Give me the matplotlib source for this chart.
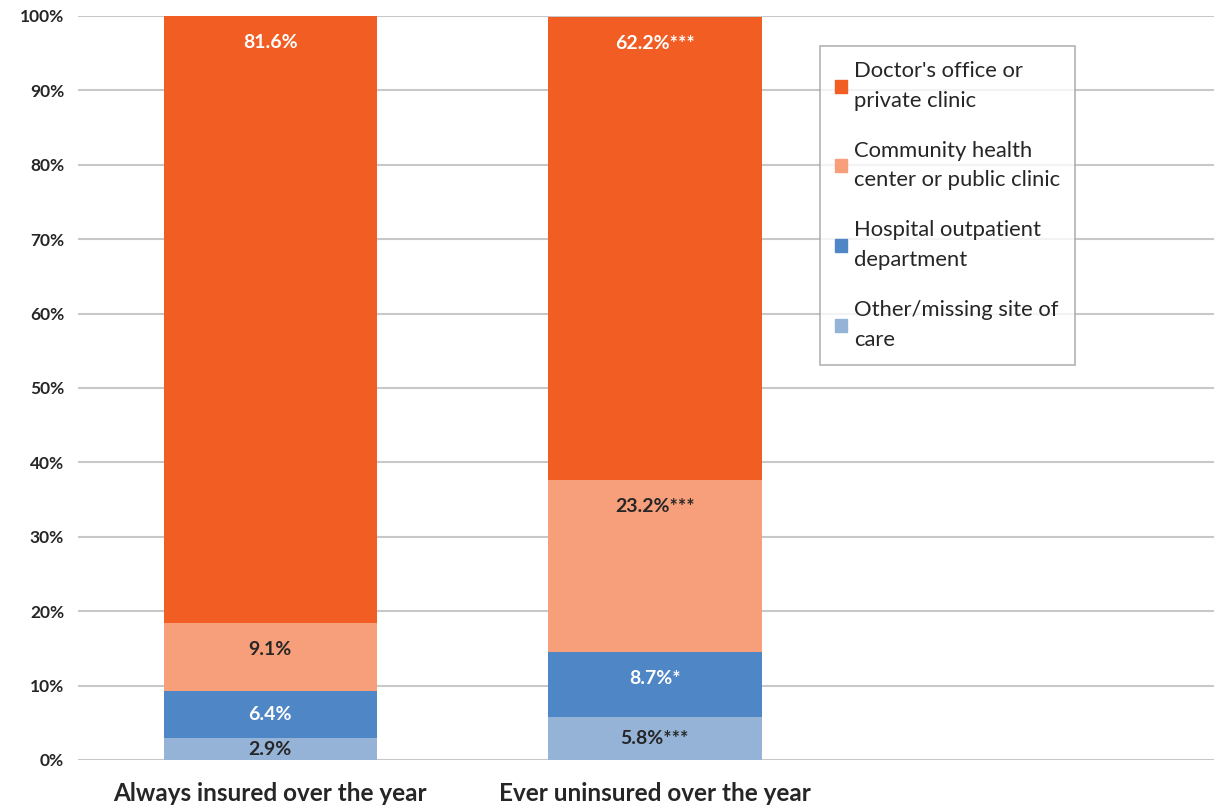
import matplotlib.pyplot as plt
from matplotlib.patches import Patch
import numpy as np

plt.rcParams['font.family'] = ['Lato', 'DejaVu Sans']

groups = ['Always insured over the year', 'Ever uninsured over the year']
series = ["Doctor's office or\nprivate clinic",
          'Community health\ncenter or public clinic',
          'Hospital outpatient\ndepartment',
          'Other/missing site of\ncare']
# bottom -> top stacking order
other = [2.9, 5.8]
hospital = [6.4, 8.7]
community = [9.1, 23.2]
doctor = [81.6, 62.2]
other_lbl = ['2.9%', '5.8%***']
hospital_lbl = ['6.4%', '8.7%*']
community_lbl = ['9.1%', '23.2%***']
doctor_lbl = ['81.6%', '62.2%***']

colors = {'doctor': '#F15D22', 'community': '#F79E7A',
          'hospital': '#4F86C6', 'other': '#95B3D7'}
txt = '#262626'

fig = plt.figure(figsize=(12.14, 8.06), dpi=100)
ax = fig.add_axes([78 / 1214, 46 / 806, 1136 / 1214, 744 / 806])

x = np.arange(len(groups))
w = 0.555
stack = [(other, other_lbl, colors['other'], txt),
         (hospital, hospital_lbl, colors['hospital'], 'white'),
         (community, community_lbl, colors['community'], txt),
         (doctor, doctor_lbl, colors['doctor'], 'white')]

bottom = np.zeros(len(groups))
for vals, lbls, col, tcol in stack:
    vals = np.array(vals)
    ax.bar(x, vals, w, bottom=bottom, color=col, zorder=3)
    for i in range(len(groups)):
        y = max(bottom[i] + vals[i] / 2, bottom[i] + vals[i] - 3.6)
        ax.text(x[i], y, lbls[i], ha='center', va='center', color=tcol,
                fontsize=14, fontweight='bold', zorder=4)
    bottom += vals

ax.set_xlim(-0.5, 2.454)
ax.set_ylim(0, 100)
ax.set_yticks(np.arange(0, 101, 10))
ax.set_yticklabels([f'{v}%' for v in range(0, 101, 10)], fontsize=12.5,
                   fontweight='bold', color=txt)
ax.set_xticks(x)
ax.set_xticklabels(groups, fontsize=17.5, fontweight='bold', color=txt)
ax.tick_params(axis='both', length=0)
ax.tick_params(axis='x', pad=16)
ax.tick_params(axis='y', pad=10)
ax.grid(axis='y', color='#C8C8C8', linewidth=1.5, zorder=0)
for s in ax.spines.values():
    s.set_visible(False)

handles = [Patch(color=colors[k]) for k in ['doctor', 'community', 'hospital', 'other']]
leg = ax.legend(handles, series, loc='upper left', bbox_to_anchor=(0.653, 0.96),
                fontsize=15.8, frameon=True, fancybox=False, handlelength=0.55,
                handleheight=0.55, handletextpad=0.3, labelspacing=1.37,
                borderpad=0.7, borderaxespad=0)
leg.get_frame().set_edgecolor('#A0A0A0')
leg.get_frame().set_linewidth(1.2)
for t in leg.get_texts():
    t.set_color(txt)
    t.set_linespacing(1.6)

fig.savefig('out.png', dpi=100)
